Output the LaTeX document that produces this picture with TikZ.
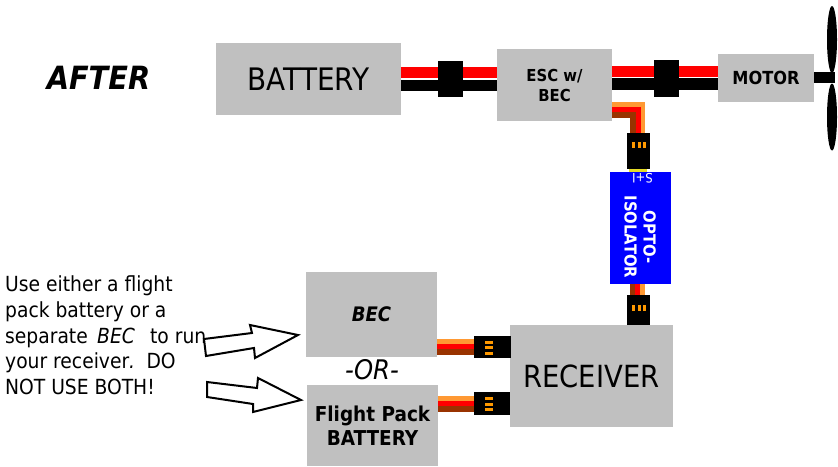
\documentclass[tikz,border=0pt]{standalone}
\usepackage{fontspec}
\setmainfont{DejaVu Sans Condensed}
\usetikzlibrary{calc}
\usetikzlibrary{positioning}
\definecolor{boxgray}{RGB}{192,192,192}
\definecolor{servoorange}{RGB}{255,153,51}
\definecolor{servobrown}{RGB}{153,51,0}
\definecolor{pinorange}{RGB}{255,153,0}
\definecolor{optoblue}{RGB}{0,0,255}
\definecolor{tabyellow}{RGB}{230,220,40}
\tikzset{
	graybox/.style={fill=boxgray,inner sep=0pt,align=center},
	redwire/.style={draw=red,line width=11pt},
	blackwire/.style={draw=black,line width=11.5pt},
	orangelead/.style={draw=servoorange,line width=5.2pt},
	redlead/.style={draw=red,line width=5.2pt},
	brownlead/.style={draw=servobrown,line width=5.5pt},
	plug/.style={fill=black,inner sep=0pt},
	hollowarrow/.style={draw=black,fill=white,line width=2pt,line join=miter},
}
\begin{document}
\begin{tikzpicture}[x=1pt,y=-1pt]
	\useasboundingbox (0,0) rectangle (838,466);
	\node (after) at (98.5,78) {\fontsize{32}{36}\selectfont\bfseries\itshape AFTER};

	\node[graybox,minimum width=185pt,minimum height=72pt,font=\fontsize{31}{34}\selectfont] (battery) at (308.5,79) {BATTERY};
	\node[graybox,minimum width=115pt,minimum height=72pt,font=\fontsize{16.5}{20}\selectfont\bfseries] (esc) at (554.5,85) {ESC w/\\BEC};
	\node[graybox,minimum width=96pt,minimum height=48pt,font=\fontsize{18}{20}\selectfont\bfseries] (motor) at (766,78) {MOTOR};
	\node[graybox,minimum width=131pt,minimum height=85pt,font=\fontsize{20}{24}\selectfont\bfseries\itshape] (bec) at (371.5,314.5) {BEC};
	\node[graybox,minimum width=131pt,minimum height=81pt,font=\fontsize{20.5}{24}\selectfont\bfseries] (pack) at (372.5,425.5) {Flight Pack\\BATTERY};
	\node[graybox,minimum width=163pt,minimum height=102pt,font=\fontsize{30.5}{34}\selectfont] (receiver) at (591.5,376) {RECEIVER};
	\node[fill=optoblue,minimum width=112pt,minimum height=61pt,inner sep=0pt,rotate=-90] (opto) at (640.5,228) {};
	\node[text=white,rotate=-90,align=center,inner sep=0pt,font=\fontsize{16.5}{19}\selectfont\bfseries] (optolabel) at (640,237) {OPTO-\\ISOLATOR};
	\node[text=white,rotate=180,inner sep=0pt,font=\fontsize{13}{14}\selectfont] (optopins) at (642.5,178) {S+I};
	\node (ortext) at (372,370) {\fontsize{27}{30}\selectfont\itshape -OR-};

	\node[anchor=west,align=left,inner sep=0pt,font=\fontsize{20.8}{25.7}\selectfont] (note) at (5,335.5) {Use either a flight\\pack battery or a\\separate \,\textit{BEC}\;\, to run\\your receiver\textit{.}\, DO\\NOT USE BOTH!};

	% main power leads
	\draw[redwire] ([yshift=6.5pt]battery.east) -- ([yshift=12.5pt]esc.west);
	\draw[blackwire] ([yshift=-6.5pt]battery.east) -- ([yshift=-0.5pt]esc.west);
	\draw[redwire] ([yshift=13.5pt]esc.east) -- ([yshift=6.5pt]motor.west);
	\draw[blackwire] ([yshift=1pt]esc.east) -- ([yshift=-6pt]motor.west);
	\node[plug,minimum width=25pt,minimum height=36pt] (batplug) at (450.5,79) {};
	\node[plug,minimum width=25pt,minimum height=37pt] (motplug) at (666.5,78.5) {};

	% motor and propeller
	\node[fill=black,minimum width=21pt,minimum height=11pt,inner sep=0pt] (shaft) at (824.5,77.5) {};
	\fill (832,39.5) ellipse (5pt and 33.5pt);
	\fill (832,117) ellipse (5pt and 33.5pt);

	% servo leads
	\node[plug,minimum width=23pt,minimum height=36pt] (escplug) at (638.5,151) {};
	\node[plug,minimum width=23pt,minimum height=30pt] (rxplug) at (638.5,310) {};
	\node[plug,minimum width=37pt,minimum height=22pt] (becplug) at (492.5,347) {};
	\node[plug,minimum width=36pt,minimum height=23pt] (packplug) at (492,403.5) {};
	\draw[orangelead] ([yshift=-19.5pt]esc.east) -| ([xshift=4pt]escplug.north);
	\draw[redlead] ([yshift=-24.5pt]esc.east) -| ([xshift=-0.5pt]escplug.north);
	\draw[brownlead] ([yshift=-30pt]esc.east) -| ([xshift=-5.5pt]escplug.north);
	\node[fill=tabyellow,minimum width=18pt,minimum height=3pt,inner sep=0pt] (esctab) at (638,170.5) {};
	\draw[brownlead] ([xshift=-7.5pt]opto.east) -- ([xshift=-5.5pt]rxplug.north);
	\draw[redlead] ([xshift=-2.5pt]opto.east) -- ([xshift=-0.5pt]rxplug.north);
	\draw[orangelead] ([xshift=2pt]opto.east) -- ([xshift=4pt]rxplug.north);
	\draw[orangelead] ([yshift=-27pt]bec.east) -- ([yshift=5.5pt]becplug.west);
	\draw[redlead] ([yshift=-32pt]bec.east) -- ([yshift=0.5pt]becplug.west);
	\draw[brownlead] ([yshift=-37.5pt]bec.east) -- ([yshift=-5pt]becplug.west);
	\draw[orangelead] ([yshift=27pt]pack.east) -- ([yshift=5pt]packplug.west);
	\draw[redlead] ([yshift=22pt]pack.east) -- ([yshift=0pt]packplug.west);
	\draw[brownlead] ([yshift=16.5pt]pack.east) -- ([yshift=-5.5pt]packplug.west);

	% pins
	\foreach \px in {633.5,639.5,644.5} {
		\fill[pinorange] (\px-1.5,142) rectangle (\px+1.5,148);
		\fill[pinorange] (\px-1.5,305) rectangle (\px+1.5,311);
	}
	\foreach \py in {342.5,347.5,353} {
		\fill[pinorange] (485,\py-1.5) rectangle (493,\py+1.5);
	}
	\foreach \py in {398.5,404.5,409} {
		\fill[pinorange] (485,\py-1.5) rectangle (493,\py+1.5);
	}

	% pointers
	\draw[hollowarrow] (204,339) -- (252,333) -- (250,325) -- (298,335) -- (255,358) -- (254,348) -- (206,356) -- cycle;
	\draw[hollowarrow] (207,382) -- (257,388) -- (258,378) -- (301,400) -- (253,412) -- (253,404) -- (207,397) -- cycle;
\end{tikzpicture}
\end{document}
